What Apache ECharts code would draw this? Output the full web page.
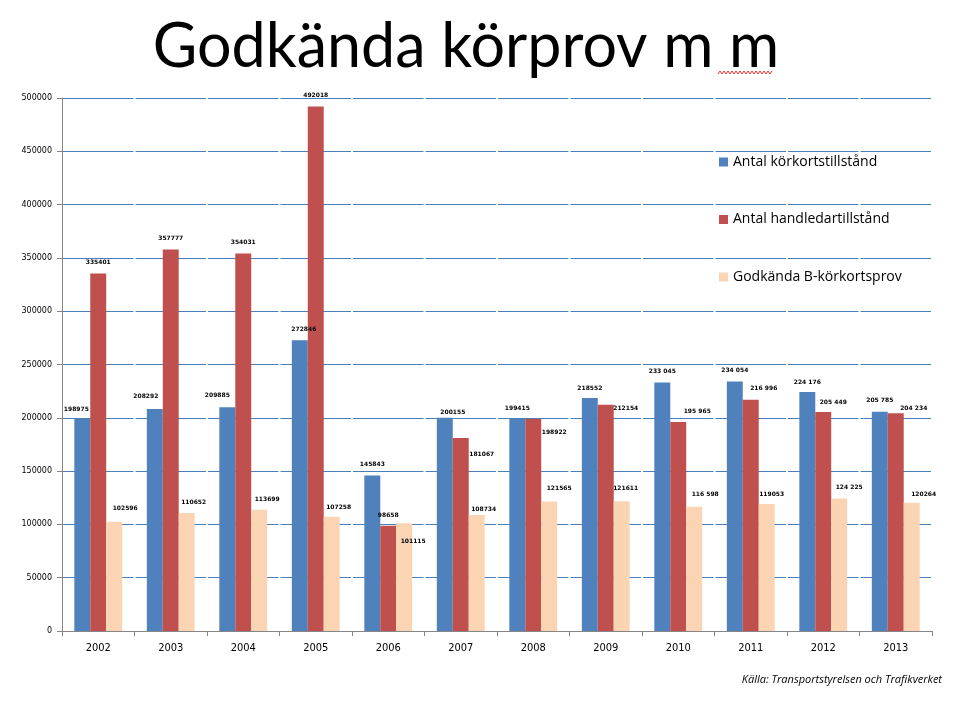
<!DOCTYPE html>
<html><head><meta charset="utf-8">
<script src="https://cdn.jsdelivr.net/npm/echarts@6/dist/echarts.min.js"></script>
<style>html,body{margin:0;padding:0;background:#fff}#c{width:956px;height:703px}</style>
</head><body><div id="c"></div>
<script>
const years = ['2002','2003','2004','2005','2006','2007','2008','2009','2010','2011','2012','2013'];
const korkort = [198975,208292,209885,272846,145843,200155,199415,218552,233045,234054,224176,205785];
const handledar = [335401,357777,354031,492018,98658,181067,198922,212154,195965,216996,205449,204234];
const godkanda = [102596,110652,113699,107258,101115,108734,121565,121611,116598,119053,124225,120264];
const korkortLabels = ['198975','208292','209885','272846','145843','200155','199415','218552','233 045','234 054','224 176','205 785'];
const handledarLabels = ['335401','357777','354031','492018','98658','181067','198922','212154','195 965','216 996','205 449','204 234'];
const godkandaLabels = ['102596','110652','113699','107258','101115','108734','121565','121611','116 598','119053','124 225','120264'];
const seriesNames = ['Antal körkortstillstånd','Antal handledartillstånd','Godkända B-körkortsprov'];
const yTicks = [0,50000,100000,150000,200000,250000,300000,350000,400000,450000,500000];

// label placement (pixel offsets from the default 'top' position), styling only
const offKorkort = [[-6,-1],[-9,-5],[-10,-4],[4,-3],[0,-3],[8,3],[0,-2],[0,-2],[0,-3],[0,-3],[0,-2],[0,-3]];
const offHandledar = [[0,-3],[0,-3],[0,-3],[0,-3],[0,-2],[21,24],[21,21],[20,12],[19,-3],[13,-3],[10,-2],[18,3]];
const offGodkanda = [[11,-5],[7,-3],[8,-2],[7,-1],[9,26],[7,2],[10,-5],[4,-5],[11,-4],[5,-2],[10,-3],[12,0]];

const lblBase = {show:true, position:'top', fontSize:6, fontFamily:'DejaVu Sans', fontWeight:'bold', color:'#000'};
function mk(vals, labels, offs){
  return vals.map((v,i)=>({value:v, label:Object.assign({}, lblBase, {formatter:labels[i], offset:offs[i]})}));
}
const squiggle = [];
for (let x = 718, k = 0; x <= 772; x += 2, k++) squiggle.push([x, k % 2 ? 71 : 74]);

const chart = echarts.init(document.getElementById('c'));
chart.setOption({
  animation:false,
  title:{text:'Godkända körprov m m', left:461, top:12, textAlign:'center',
    textStyle:{fontFamily:'Lato', fontWeight:'normal', fontSize:61, color:'#000'}},
  grid:{left:62, right:24, top:98, bottom:72, containLabel:false},
  legend:{orient:'vertical', left:714, top:150, itemWidth:9, itemHeight:9, itemGap:43.5, icon:'rect',
    textStyle:{fontFamily:'Open Sans', fontSize:14, color:'#000'}, data:seriesNames},
  xAxis:{type:'category', data:years,
    axisLine:{lineStyle:{color:'#868686'}},
    axisTick:{show:true, lineStyle:{color:'#868686'}},
    axisLabel:{fontFamily:'DejaVu Sans Condensed', fontSize:11, color:'#000', margin:12}},
  yAxis:{type:'value', min:yTicks[0], max:yTicks[yTicks.length-1], interval:50000,
    axisLine:{show:true, lineStyle:{color:'#868686'}},
    axisTick:{show:true, length:5, lineStyle:{color:'#868686'}},
    axisLabel:{fontFamily:'DejaVu Sans', fontSize:8, color:'#000', margin:10, formatter:v=>String(v)},
    splitLine:{lineStyle:{color:'#4a7ebb', width:1, type:[70.5,2], dashOffset:71.5}}},
  series:[
    {name:seriesNames[0], type:'bar', barGap:'0%', barCategoryGap:'34%', itemStyle:{color:'#4f81bd'},
      data:mk(korkort, korkortLabels, offKorkort)},
    {name:seriesNames[1], type:'bar', barGap:'0%', barCategoryGap:'34%', itemStyle:{color:'#c0504d'},
      data:mk(handledar, handledarLabels, offHandledar)},
    {name:seriesNames[2], type:'bar', barGap:'0%', barCategoryGap:'34%', itemStyle:{color:'#fbd4b4'},
      data:mk(godkanda, godkandaLabels, offGodkanda)}
  ],
  graphic:[
    {type:'text', right:14, top:674, style:{text:'Källa: Transportstyrelsen och Trafikverket',
      fontFamily:'Open Sans', fontStyle:'italic', fontSize:11, fill:'#000'}},
    {type:'polyline', shape:{points:squiggle}, style:{stroke:'#e03030', lineWidth:1, fill:null}}
  ]
});
</script></body></html>
